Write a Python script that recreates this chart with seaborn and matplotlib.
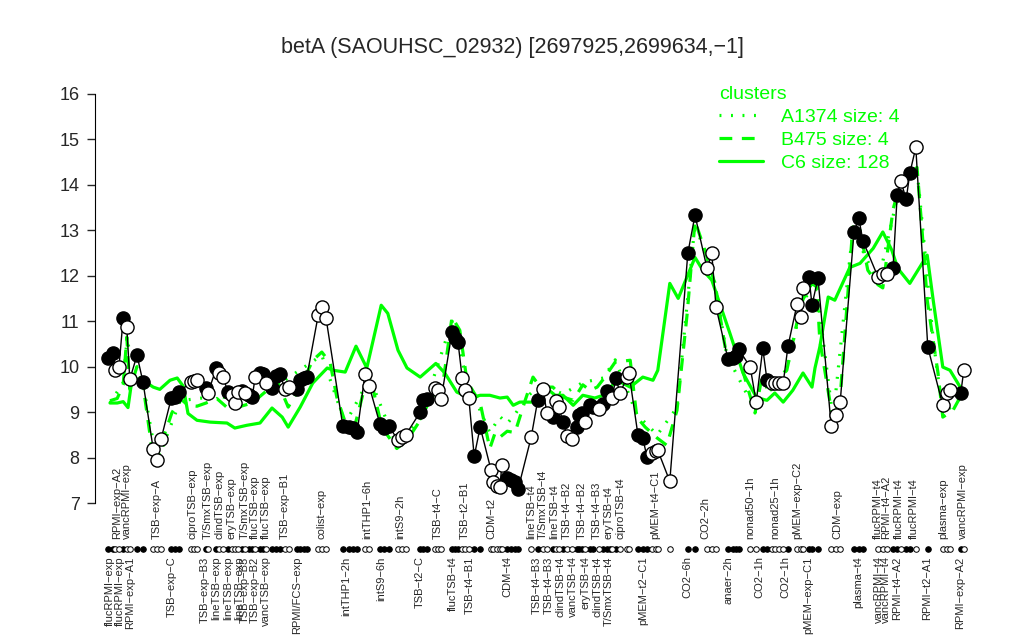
import numpy as np
import pandas as pd
import matplotlib
matplotlib.use('Agg')
import matplotlib.pyplot as plt
from matplotlib.lines import Line2D
import seaborn as sns

# sample positions (slot units), expression values, filled (1) / open (0)
sample_pos = [2.2, 3.0, 3.3, 4.0, 4.7, 5.3, 5.8, 7.0, 8.0, 9.7, 10.3, 11.0, 12.7, 13.3, 14.0,
              16.0, 16.5, 17.0, 18.5, 18.8, 20.2, 20.7, 21.3, 22.2, 22.8, 23.3, 23.8, 24.5, 25.0,
              25.7, 26.2, 26.7, 27.5, 28.0, 28.5, 29.5, 30.2, 30.8, 31.7, 32.3, 33.7, 34.2, 34.8,
              35.3, 37.2, 37.8, 38.5, 41.3, 42.3, 43.0, 43.7, 45.0, 45.7, 47.5, 48.2, 49.0, 50.5,
              51.2, 51.8, 54.2, 54.7, 55.3, 56.7, 57.2, 57.7, 59.5, 60.0, 60.5, 61.2, 61.7, 62.3,
              63.2, 64.2, 66.0, 66.3, 67.0, 67.5, 67.8, 68.7, 69.3, 70.0, 70.5, 72.7, 73.8, 74.7,
              75.3, 76.3, 76.8, 77.3, 78.0, 78.7, 79.5, 80.3, 80.7, 81.2, 81.7, 82.5, 83.0, 84.0,
              84.7, 85.3, 85.8, 86.2, 86.8, 87.5, 88.7, 89.0, 90.5, 91.3, 92.0, 92.8, 93.5, 93.8,
              95.8, 98.8, 100.0, 102.0, 102.8, 103.5, 105.5, 106.3, 106.8, 107.3, 109.2, 110.2,
              111.3, 112.0, 112.8, 113.3, 114.0, 114.7, 115.5, 117.0, 117.7, 118.0, 119.0, 119.5,
              120.5, 122.7, 123.5, 124.2, 126.5, 127.3, 128.0, 130.5, 131.3, 132.0, 133.0, 133.7,
              134.3, 135.2, 135.8, 136.8, 138.8, 141.3, 142.0, 142.5, 144.3, 144.8]
sample_val = [10.19, 10.30, 9.92, 10.00, 11.07, 10.87, 9.72, 10.25, 9.66, 8.19, 7.95, 8.40, 9.30,
              9.33, 9.44, 9.66, 9.68, 9.70, 9.53, 9.41, 9.96, 9.85, 9.77, 9.44, 9.37, 9.20, 9.44,
              9.46, 9.41, 9.37, 9.33, 9.77, 9.85, 9.83, 9.64, 9.53, 9.80, 9.84, 9.50, 9.55, 9.50,
              9.70, 9.75, 9.77, 11.13, 11.30, 11.07, 8.70, 8.67, 8.65, 8.56, 9.84, 9.57, 8.73, 8.65,
              8.69, 8.38, 8.45, 8.50, 9.00, 9.26, 9.29, 9.53, 9.48, 9.29, 10.76, 10.63, 10.54, 9.75,
              9.48, 9.31, 8.03, 8.67, 7.73, 7.46, 7.37, 7.35, 7.84, 7.55, 7.50, 7.46, 7.30, 8.45,
              9.27, 9.50, 8.98, 8.89, 9.24, 9.11, 8.78, 8.47, 8.40, 8.67, 8.93, 8.98, 8.78, 9.15,
              9.11, 9.06, 9.18, 9.46, 9.33, 9.31, 9.75, 9.42, 9.77, 9.86, 8.49, 8.43, 8.01, 8.10,
              8.14, 8.16, 7.48, 12.49, 13.33, 12.16, 12.49, 11.31, 10.16, 10.20, 10.23, 10.38, 9.99,
              9.22, 10.40, 9.70, 9.64, 9.64, 9.64, 9.64, 10.45, 11.37, 11.09, 11.73, 11.97, 11.35,
              11.95, 8.69, 8.93, 9.22, 12.96, 13.26, 12.76, 11.97, 12.03, 12.03, 12.16, 13.77,
              14.08, 13.68, 14.25, 14.82, 10.43, 9.15, 9.42, 9.48, 9.42, 9.92]
sample_filled = [1, 1, 0, 0, 1, 0, 0, 1, 1, 0, 0, 0, 1, 1, 1, 0, 0, 0, 1, 0, 1, 0, 0, 1, 0, 0, 0,
                 1, 0, 1, 1, 0, 1, 1, 0, 1, 1, 1, 0, 0, 1, 1, 1, 1, 0, 0, 0, 1, 1, 1, 1, 0, 0, 1,
                 1, 1, 0, 0, 0, 1, 1, 1, 0, 0, 0, 1, 1, 1, 0, 0, 0, 1, 1, 0, 0, 0, 0, 0, 1, 1, 1,
                 1, 0, 1, 0, 0, 1, 0, 0, 1, 0, 0, 1, 1, 1, 0, 1, 1, 0, 1, 1, 1, 0, 1, 0, 0, 0, 1,
                 1, 1, 0, 0, 0, 0, 1, 1, 0, 0, 0, 1, 1, 1, 1, 0, 0, 1, 1, 0, 0, 0, 0, 1, 0, 0, 0,
                 1, 1, 1, 0, 0, 0, 1, 1, 1, 0, 0, 0, 1, 1, 0, 1, 1, 0, 1, 0, 0, 0, 1, 0]

# cluster C6 (solid)
c6_pos = [2.5, 3.7, 4.7, 5.5, 6.2, 8.0, 9.7, 10.8, 12.5, 13.7, 14.7, 15.5, 17.0, 19.2, 22.0, 23.3,
          25.3, 27.5, 29.5, 31.2, 32.2, 34.2, 36.3, 38.7, 39.7, 41.7, 43.5, 45.3, 47.7, 48.8, 50.5,
          52.0, 54.2, 56.8, 58.3, 60.3, 62.5, 64.2, 65.8, 67.5, 68.7, 69.7, 70.8, 73.0, 75.0, 76.7,
          78.0, 79.7, 81.3, 83.3, 84.7, 87.0, 89.2, 91.3, 93.0, 93.8, 95.8, 97.2, 100.0, 101.3,
          102.8, 104.5, 105.8, 108.0, 110.3, 112.0, 113.3, 114.7, 116.3, 118.0, 119.5, 120.0,
          120.8, 122.2, 123.3, 125.8, 127.5, 129.7, 131.3, 132.8, 133.8, 135.8, 138.7, 139.7,
          141.3, 142.5, 144.2, 144.8]
c6_val = [9.20, 9.20, 9.23, 9.10, 9.75, 9.70, 9.55, 9.50, 9.70, 9.75, 9.57, 8.97, 8.82, 8.78, 8.76,
          8.65, 8.71, 8.76, 9.09, 8.89, 8.67, 9.11, 9.64, 9.97, 9.92, 9.88, 10.45, 9.97, 11.35,
          11.17, 10.36, 9.97, 9.77, 10.07, 9.86, 9.44, 9.31, 9.37, 9.37, 9.31, 9.33, 9.15, 9.22,
          9.22, 9.55, 9.37, 9.37, 9.15, 9.37, 9.31, 9.37, 9.70, 9.55, 9.77, 9.70, 9.92, 11.83,
          11.50, 12.40, 12.12, 11.90, 11.24, 10.74, 9.86, 9.31, 9.26, 9.42, 9.22, 9.48, 9.86,
          9.55, 9.97, 10.43, 11.53, 11.46, 12.18, 12.27, 12.60, 12.96, 12.56, 12.16, 11.83, 12.45,
          11.46, 9.99, 9.92, 9.55, 9.50]

# cluster B475 (dashed)
b475_pos = [2.5, 3.7, 4.7, 5.3, 5.8, 7.0, 8.0, 9.7, 10.3, 11.0, 12.0, 12.8, 14.2, 15.5, 17.0, 18.5,
            20.3, 22.2, 23.8, 26.2, 28.7, 30.5, 32.2, 34.2, 36.3, 37.8, 39.2, 40.3, 41.7, 43.3,
            44.7, 45.8, 47.8, 50.3, 52.0, 54.2, 55.8, 58.0, 59.5, 60.8, 62.0, 64.2, 65.8, 66.7,
            67.5, 68.7, 70.0, 71.7, 73.0, 74.2, 76.3, 78.0, 79.7, 81.3, 82.5, 83.7, 84.7, 86.7,
            89.2, 90.3, 91.7, 93.7, 95.3, 97.0, 98.7, 100.0, 101.7, 103.3, 105.3, 107.5, 110.0,
            111.3, 112.2, 115.3, 117.0, 118.0, 119.5, 120.3, 120.8, 123.0, 124.2, 126.3, 127.5,
            128.8, 130.5, 131.3, 133.0, 134.2, 137.0, 137.8, 138.7, 140.5, 141.3, 143.0, 144.2]
b475_val = [9.25, 9.30, 9.60, 10.65, 9.50, 10.00, 9.60, 8.00, 7.85, 8.30, 8.67, 8.98, 9.30, 9.15,
            9.13, 9.20, 9.30, 9.08, 9.11, 9.20, 9.48, 9.64, 9.11, 9.55, 10.14, 10.32, 10.08, 9.33,
            8.78, 8.70, 9.42, 9.82, 8.67, 8.20, 8.38, 8.82, 9.26, 9.64, 11.09, 10.80, 9.68, 9.20,
            8.20, 8.55, 8.45, 8.58, 8.55, 9.26, 9.77, 9.55, 9.55, 9.33, 9.26, 9.60, 9.48, 9.55,
            9.72, 10.10, 10.14, 8.89, 8.67, 8.43, 8.27, 9.04, 11.17, 13.20, 12.54, 11.83, 10.20,
            10.12, 8.98, 9.86, 9.42, 9.92, 10.97, 11.48, 11.83, 11.75, 10.58, 8.82, 9.33, 13.07,
            13.00, 12.12, 11.80, 11.73, 13.45, 14.03, 14.38, 13.07, 11.46, 9.86, 8.89, 9.04, 9.33]

# cluster A1374 (dotted)
a1374_pos = [2.5, 4.7, 5.3, 8.0, 10.3, 14.2, 20.3, 26.2, 30.5, 37.8, 41.7, 45.8, 50.3, 54.2,
             59.5, 62.0, 65.8, 67.5, 68.7, 70.0, 71.7, 74.2, 78.0, 81.3, 84.7, 86.7, 90.3, 93.7,
             97.0, 100.0, 103.3, 105.3, 110.0, 115.3, 118.0, 120.3, 123.0, 126.3, 130.5, 134.2,
             137.0, 139.7, 141.3, 144.2]
a1374_val = [9.20, 9.65, 10.55, 9.62, 7.90, 9.25, 9.35, 9.25, 9.60, 10.25, 8.75, 9.75, 8.25, 8.85,
             11.00, 9.70, 8.55, 8.90, 8.75, 8.95, 9.30, 9.60, 9.40, 9.65, 9.75, 10.15, 8.95, 8.50,
             9.10, 13.15, 11.85, 10.25, 9.05, 9.95, 11.50, 11.70, 8.85, 13.00, 11.85, 14.00,
             14.35, 10.60, 8.95, 9.30]

top_labels = ['RPMI\u2212exp\u2212A2', 'vancRPMI\u2212exp', 'TSB\u2212exp\u2212A', 'ciproTSB\u2212exp',
              'T/SmxTSB\u2212exp', 'clindTSB\u2212exp', 'eryTSB\u2212exp', 'T/SmxTSB\u2212exp',
              'flucTSB\u2212exp', 'flucTSB\u2212exp', 'TSB\u2212exp\u2212B1', 'colist\u2212exp',
              'intTHP1\u22126h', 'intS9\u22122h', 'TSB\u2212t4\u2212C', 'TSB\u2212t2\u2212B1', 'CDM\u2212t2',
              'lineTSB\u2212t4', 'T/SmxTSB\u2212t4', 'lineTSB\u2212t4', 'TSB\u2212t4\u2212B2',
              'TSB\u2212t4\u2212B2', 'TSB\u2212t4\u2212B3', 'eryTSB\u2212t4', 'ciproTSB\u2212t4',
              'pMEM\u2212t4\u2212C1', 'CO2\u22122h', 'nonad50\u22121h', 'nonad25\u22121h',
              'pMEM\u2212exp\u2212C2', 'CDM\u2212exp', 'flucRPMI\u2212t4', 'RPMI\u2212t4\u2212A2',
              'flucRPMI\u2212t4', 'flucRPMI\u2212t4', 'plasma\u2212exp', 'vancRPMI\u2212exp']
top_label_pos = [3.7, 5.3, 10.3, 16.3, 18.8, 20.7, 22.8, 25.0, 26.7, 28.5, 31.7, 37.8, 45.3, 50.8,
                 57.2, 61.7, 66.0, 72.7, 74.7, 76.5, 78.7, 81.2, 83.7, 85.5, 87.5, 93.3, 101.8,
                 109.2, 113.3, 117.0, 123.8, 130.5, 131.8, 134.0, 136.5, 141.3, 144.7]

bottom_labels = ['flucRPMI\u2212exp', 'flucRPMI\u2212exp', 'RPMI\u2212exp\u2212A1', 'TSB\u2212exp\u2212C',
                 'TSB\u2212exp\u2212B3', 'lineTSB\u2212exp', 'lineTSB\u2212exp', 'lineTSB\u2212exp',
                 'TSB\u2212exp\u2212B3', 'TSB\u2212exp\u2212B2', 'vancTSB\u2212exp', 'RPMI/FCS\u2212exp',
                 'intTHP1\u22122h', 'intS9\u22126h', 'TSB\u2212t2\u2212C', 'flucTSB\u2212t4',
                 'TSB\u2212t4\u2212B1', 'CDM\u2212t4', 'TSB\u2212t4\u2212B3', 'TSB\u2212t4\u2212B3',
                 'clindTSB\u2212t4', 'vancTSB\u2212t4', 'eryTSB\u2212t4', 'clindTSB\u2212t4',
                 'T/SmxTSB\u2212t4', 'pMEM\u2212t2\u2212C1', 'CO2\u22126h', 'anaer\u22122h', 'CO2\u22121h',
                 'CO2\u22121h', 'pMEM\u2212exp\u2212C1', 'plasma\u2212t4', 'vancRPMI\u2212t4',
                 'vancRPMI\u2212t4', 'RPMI\u2212t4\u2212A2', 'RPMI\u2212t2\u2212A1', 'RPMI\u2212exp\u2212A2']
bottom_label_pos = [2.5, 4.2, 5.8, 12.8, 18.3, 20.2, 22.2, 24.0, 25.0, 26.7, 28.5, 33.7, 41.8, 47.7,
                    54.2, 59.7, 62.5, 68.8, 73.7, 75.7, 77.5, 79.7, 81.7, 83.8, 85.7, 91.3, 98.8,
                    105.5, 110.8, 115.0, 118.8, 127.2, 130.6, 131.9, 133.7, 138.7, 144.2]

title = 'betA (SAOUHSC_02932) [2697925,2699634,\u22121]'
green = '#00ff00'

sns.set_style('white')
plt.rcParams['font.family'] = ['Liberation Sans', 'DejaVu Sans']

df = pd.DataFrame({'pos': sample_pos, 'val': sample_val, 'filled': sample_filled})
df['row'] = 6.0

fig = plt.figure(figsize=(10.24, 6.4), dpi=100)
ax = fig.add_axes([95 / 1024, 0, 876 / 1024, 1])

# cluster profiles
sns.lineplot(x=c6_pos, y=c6_val, ax=ax, color=green, lw=2.3, estimator=None, sort=False)
sns.lineplot(x=b475_pos, y=b475_val, ax=ax, color=green, lw=2.3, estimator=None, sort=False,
             linestyle='--')
sns.lineplot(x=a1374_pos, y=a1374_val, ax=ax, color=green, lw=2.3, estimator=None, sort=False,
             linestyle=':')
ax.lines[1].set_dashes((4, 3))
ax.lines[2].set_dashes((0.6, 3))

# gene profile
sns.lineplot(data=df, x='pos', y='val', ax=ax, color='black', lw=1, estimator=None, sort=False)
filled = df[df['filled'] == 1]
hollow = df[df['filled'] == 0]
sns.scatterplot(data=filled, x='pos', y='val', ax=ax, s=90, color='black', edgecolor='black',
                linewidth=1, zorder=5)
sns.scatterplot(data=hollow, x='pos', y='val', ax=ax, s=90, color='white', edgecolor='black',
                linewidth=1, zorder=5)

# sample strip
sns.scatterplot(data=filled, x='pos', y='row', ax=ax, s=16, color='black', edgecolor='black',
                linewidth=0.7, zorder=5)
sns.scatterplot(data=hollow, x='pos', y='row', ax=ax, s=16, color='white', edgecolor='black',
                linewidth=0.7, zorder=5)

for lab, p in zip(top_labels, top_label_pos):
    ax.text(p, 6.2, lab, rotation=90, ha='center', va='bottom', fontsize=8)
for lab, p in zip(bottom_labels, bottom_label_pos):
    ax.text(p, 5.83, lab, rotation=90, ha='center', va='top', fontsize=8)

ax.set_xlim(0, 146)
ax.set_ylim(3.99, 18.06)
ax.set_xticks([])
ax.set_yticks(range(7, 17))
ax.set_yticklabels([str(v) for v in range(7, 17)], fontsize=13)
ax.tick_params(axis='y', direction='out', length=6, width=1, left=True, pad=5)
ax.set_xlabel('')
ax.set_ylabel('')
for side in ['top', 'right', 'bottom']:
    ax.spines[side].set_visible(False)
ax.spines['left'].set_bounds(7, 16)
ax.spines['left'].set_color('black')
ax.patch.set_alpha(0)

fig.text(0.5, 1 - 47 / 640, title, ha='center', va='center', fontsize=15.5)

handles = [Line2D([], [], color=green, lw=2.3, dashes=(0.6, 3)),
           Line2D([], [], color=green, lw=2.3, dashes=(4, 3)),
           Line2D([], [], color=green, lw=2.3)]
leg = ax.legend(handles, ['A1374 size: 4', 'B475 size: 4', 'C6 size: 128'], title='clusters',
                loc='upper left', bbox_to_anchor=(709 / 1024, 1 - 76 / 640),
                bbox_transform=fig.transFigure, frameon=False, fontsize=14,
                title_fontsize=14, labelcolor=green, handlelength=2.3, handletextpad=0.9,
                labelspacing=0.28, alignment='left', borderpad=0)
leg.get_title().set_color(green)

fig.savefig('out.png', dpi=100)
